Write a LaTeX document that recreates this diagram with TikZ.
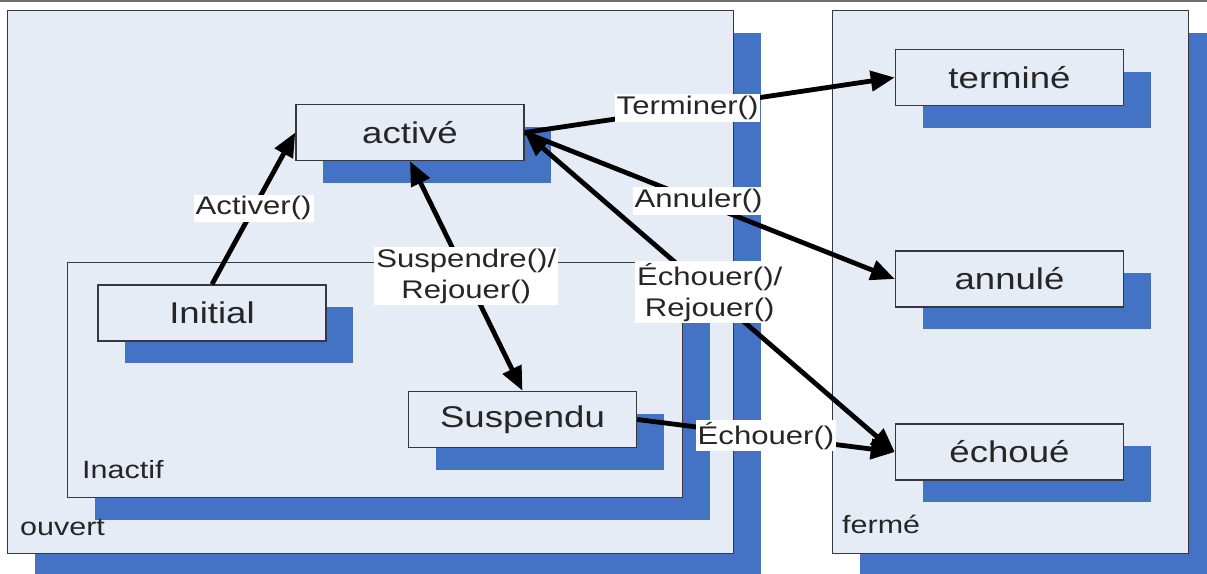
\documentclass[tikz,border=0pt]{standalone}
\usepackage{fontspec}
\setmainfont{Liberation Sans}[FakeStretch=1.22]
\usetikzlibrary{arrows.meta,shadows}
\definecolor{boxfill}{RGB}{230,236,246}
\definecolor{shadowblue}{RGB}{68,114,196}
\definecolor{edgegray}{RGB}{55,55,60}
\definecolor{txt}{RGB}{38,38,38}
\definecolor{rulegray}{RGB}{110,110,110}
\begin{document}
\begin{tikzpicture}[x=1pt,y=-1pt,
  shadowed/.style={general shadow={fill=shadowblue, shadow xshift=27pt, shadow yshift=-22pt}},
  container/.style={shadowed, draw=edgegray, line width=1.2pt, fill=boxfill, inner sep=0pt, anchor=north west},
  state/.style={shadowed, draw=edgegray, line width=1.5pt, fill=boxfill, minimum width=228pt, minimum height=56pt, inner sep=0pt, font=\fontsize{30}{36}\selectfont, text=txt},
  arr/.style={line width=4.8pt, -{Triangle[length=24pt,width=20pt]}, black},
  darr/.style={line width=4.8pt, {Triangle[length=24pt,width=20pt]}-{Triangle[length=24pt,width=20pt]}, black},
  lab/.style={fill=white, inner sep=2pt, text=txt, font=\fontsize{25.5}{31}\selectfont, align=center},
  clab/.style={anchor=base west, inner sep=0pt, text=txt, font=\fontsize{25}{30}\selectfont}]
\clip (0,0) rectangle (1207,573);
\fill[white] (0,0) rectangle (1207,573);
\coordinate (rl) at (0,1);
\coordinate (rr) at (1207,1);
\draw[rulegray, line width=2pt] (rl) -- (rr);
% containers
\node[container, minimum width=726pt, minimum height=543pt] (ouvert) at (7,10) {};
\node[container, minimum width=356pt, minimum height=543pt] (ferme) at (832,10) {};
\node[container, minimum width=615pt, minimum height=235pt] (inactif) at (67,262) {};
\node[clab] (ouvertlab) at (20,535) {ouvert};
\node[clab] (fermelab) at (842,533) {fermé};
\node[clab] (inactiflab) at (82,478) {Inactif};
% states
\node[state] (act) at (410,132.5) {activé};
\node[state] (term) at (1009.5,77.5) {terminé};
\node[state] (annu) at (1009.5,279) {annulé};
\node[state] (ech) at (1009.5,452) {échoué};
\node[state] (init) at (212,313) {Initial};
\node[state] (susp) at (522.5,419.5) {Suspendu};
% transitions
\draw[arr] (init.north) -- node[lab,pos=0.5] (lactiver) {Activer()} (act.west);
\draw[arr] (act.east) -- node[lab,pos=0.44] (lterminer) {Terminer()} (term.west);
\draw[arr] (act.east) -- node[lab,pos=0.47] (lannuler) {Annuler()} (annu.west);
\draw[darr] (act.east) -- node[lab,pos=0.5] (lechouer) {Échouer()/\\Rejouer()} (ech.west);
\draw[darr] (act.south) -- node[lab,pos=0.5] (lsuspendre) {Suspendre()/\\Rejouer()} (susp.north);
\draw[arr] (susp.east) -- node[lab,pos=0.5] (lechouer2) {Échouer()} (ech.west);
\end{tikzpicture}
\end{document}
